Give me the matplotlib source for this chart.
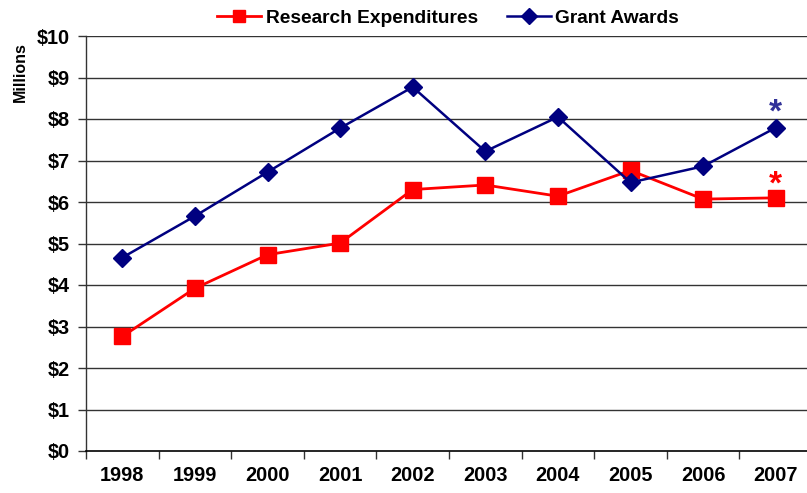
import matplotlib
matplotlib.use("Agg")
import matplotlib.pyplot as plt
import numpy as np

years = ["1998", "1999", "2000", "2001", "2002", "2003", "2004", "2005", "2006", "2007"]
research = [2.76, 3.92, 4.73, 5.01, 6.30, 6.41, 6.14, 6.76, 6.07, 6.10]
grants = [4.66, 5.66, 6.72, 7.78, 8.77, 7.22, 8.05, 6.47, 6.86, 7.79]
yticks = [0, 1, 2, 3, 4, 5, 6, 7, 8, 9, 10]
ytick_labels = ["$" + str(v) for v in yticks]

plt.rcParams['font.family'] = ['Liberation Sans', 'DejaVu Sans']
plt.rcParams['font.weight'] = 'bold'

W, H = 807, 493
fig = plt.figure(figsize=(W / 100, H / 100), dpi=100)
left, right, top, bottom = 86, 812, 36, 451
ax = fig.add_axes([left / W, 1 - bottom / H, (right - left) / W, (bottom - top) / H])

x = np.arange(len(years))
ax.plot(x, research, color='#FF0000', lw=2.0, marker='s', ms=11.5, mec='#FF0000', mfc='#FF0000',
        label='Research Expenditures', zorder=3)
ax.plot(x, grants, color='#000080', lw=1.8, marker='D', ms=9, mec='#000080', mfc='#000080',
        label='Grant Awards', zorder=4)

ax.set_xlim(-0.5, len(years) - 0.5)
ax.set_ylim(0, 10)
ax.set_yticks(yticks)
ax.set_yticklabels(ytick_labels, fontsize=14.3, fontweight='bold')
ax.set_xticks(x)
ax.set_xticklabels(years, fontsize=14.3, fontweight='bold')
ax.set_xticks(np.arange(-0.5, len(years) - 0.4, 1.0), minor=True)
ax.tick_params(axis='x', which='major', length=0, pad=11)
ax.tick_params(axis='x', which='minor', length=6, width=1, color='#333333', direction='out')
ax.tick_params(axis='y', length=6, width=1, color='#333333', direction='out', pad=6)

for v in yticks[1:]:
    ax.axhline(v, color='#333333', lw=1.0, zorder=1)
for s in ['top', 'right']:
    ax.spines[s].set_visible(False)
ax.spines['left'].set_color('#333333')
ax.spines['bottom'].set_color('#000000')
ax.spines['left'].set_linewidth(1.0)
ax.spines['bottom'].set_linewidth(1.2)

ax.annotate('*', (x[-1], grants[-1]), xytext=(0, 6), textcoords='offset pixels', ha='center',
            va='baseline', fontsize=24, fontweight='bold', color='#333399')
ax.annotate('*', (x[-1], research[-1]), xytext=(0, 4), textcoords='offset pixels', ha='center',
            va='baseline', fontsize=24, fontweight='bold', color='#FF0000')

fig.text(20 / W, 1 - 72 / H, 'Millions', rotation=90, ha='center', va='center', fontsize=11.5,
         fontweight='bold')

leg = fig.legend(loc='center', bbox_to_anchor=(448 / W, 1 - 18 / H), ncol=2, frameon=False,
                 handlelength=2.3, columnspacing=1.5, handletextpad=0.25,
                 prop={'weight': 'bold', 'size': 13.8})
for h in leg.legend_handles:
    h.set_markersize(8)

fig.savefig('out.png', dpi=100)
